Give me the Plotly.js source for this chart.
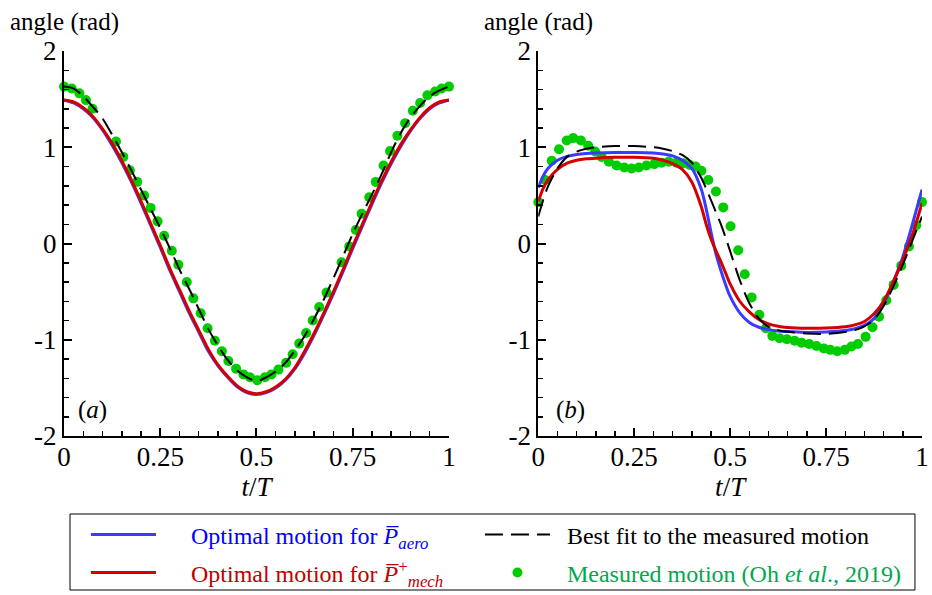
<!DOCTYPE html>
<html>
<head>
<meta charset="utf-8">
<script src="https://cdn.plot.ly/plotly-3.0.1.min.js"></script>
<style>
html,body{margin:0;padding:0;background:#fff;}
#chart{width:932px;height:595px;}
</style>
</head>
<body>
<div id="chart"></div>
<script>
// ---------- panel (a) ----------
const tA = [0,0.025,0.05,0.075,0.1,0.125,0.15,0.175,0.2,0.225,0.25,0.275,0.3,0.325,0.35,0.375,0.4,0.425,0.45,0.475,0.5,0.525,0.55,0.575,0.6,0.625,0.65,0.675,0.7,0.725,0.75,0.775,0.8,0.825,0.85,0.875,0.9,0.925,0.95,0.975,1];
const aeroA = [1.49,1.46,1.40,1.31,1.18,1.02,0.84,0.64,0.42,0.19,-0.04,-0.28,-0.50,-0.72,-0.92,-1.12,-1.27,-1.39,-1.49,-1.55,-1.57,-1.55,-1.50,-1.42,-1.30,-1.14,-0.95,-0.74,-0.52,-0.29,-0.05,0.18,0.41,0.63,0.83,1.01,1.17,1.30,1.40,1.46,1.49];
const mechA = [1.49,1.47,1.41,1.32,1.19,1.04,0.86,0.66,0.44,0.21,-0.02,-0.26,-0.48,-0.70,-0.90,-1.10,-1.26,-1.38,-1.48,-1.54,-1.56,-1.54,-1.49,-1.41,-1.29,-1.12,-0.93,-0.72,-0.50,-0.27,-0.03,0.20,0.43,0.65,0.85,1.03,1.18,1.31,1.41,1.47,1.49];
const fitA = [1.63,1.61,1.53,1.42,1.30,1.13,0.95,0.76,0.56,0.36,0.16,-0.05,-0.27,-0.47,-0.68,-0.89,-1.06,-1.21,-1.32,-1.39,-1.43,-1.39,-1.33,-1.24,-1.11,-0.96,-0.78,-0.58,-0.36,-0.13,0.10,0.31,0.51,0.72,0.95,1.15,1.31,1.43,1.53,1.59,1.63];
const measTA = [0,0.02,0.04,0.057,0.074,0.135,0.154,0.171,0.19,0.208,0.225,0.243,0.26,0.28,0.297,0.319,0.336,0.355,0.373,0.392,0.41,0.427,0.447,0.466,0.483,0.502,0.522,0.539,0.557,0.577,0.594,0.611,0.629,0.646,0.663,0.682,0.721,0.741,0.758,0.773,0.793,0.81,0.83,0.847,0.866,0.886,0.906,0.925,0.944,0.964,0.981,1.0];
const measA = [1.63,1.61,1.56,1.49,1.40,1.06,0.90,0.76,0.64,0.50,0.37,0.23,0.08,-0.075,-0.22,-0.40,-0.57,-0.725,-0.88,-1.01,-1.12,-1.22,-1.30,-1.36,-1.39,-1.42,-1.39,-1.36,-1.31,-1.24,-1.15,-1.04,-0.93,-0.80,-0.66,-0.51,-0.195,-0.03,0.14,0.31,0.48,0.64,0.81,0.96,1.12,1.25,1.38,1.46,1.54,1.58,1.61,1.63];

// ---------- panel (b) ----------
const tB = [0,0.0125,0.025,0.05,0.075,0.1,0.125,0.15,0.2,0.25,0.3,0.325,0.35,0.375,0.4,0.425,0.4375,0.45,0.4625,0.475,0.4875,0.5,0.525,0.55,0.575,0.6,0.625,0.65,0.7,0.75,0.8,0.825,0.85,0.875,0.9,0.925,0.95,0.975,1];
const aeroB = [0.58,0.70,0.78,0.865,0.905,0.925,0.935,0.94,0.945,0.945,0.94,0.93,0.91,0.865,0.78,0.56,0.36,0.12,-0.10,-0.27,-0.42,-0.55,-0.72,-0.82,-0.87,-0.895,-0.91,-0.915,-0.925,-0.92,-0.905,-0.885,-0.85,-0.78,-0.63,-0.40,-0.14,0.20,0.56];
const mechB = [0.44,0.57,0.66,0.77,0.835,0.865,0.88,0.887,0.895,0.895,0.885,0.865,0.83,0.77,0.64,0.38,0.20,0.05,-0.07,-0.18,-0.30,-0.42,-0.60,-0.71,-0.79,-0.835,-0.86,-0.872,-0.88,-0.878,-0.865,-0.845,-0.81,-0.73,-0.60,-0.40,-0.17,0.09,0.42];
const fitB = [0.28,0.45,0.59,0.78,0.90,0.955,0.985,1.0,1.012,1.012,1.0,0.985,0.96,0.92,0.84,0.68,0.57,0.45,0.33,0.21,0.07,-0.08,-0.38,-0.62,-0.78,-0.865,-0.90,-0.918,-0.935,-0.94,-0.92,-0.90,-0.86,-0.79,-0.65,-0.45,-0.22,0.03,0.28];
const measTB = [0,0.018,0.035,0.054,0.074,0.091,0.111,0.13,0.148,0.165,0.184,0.204,0.224,0.243,0.262,0.282,0.302,0.321,0.34,0.36,0.378,0.395,0.41,0.425,0.443,0.463,0.482,0.501,0.521,0.538,0.556,0.576,0.593,0.61,0.629,0.648,0.668,0.686,0.706,0.725,0.744,0.761,0.779,0.799,0.816,0.833,0.853,0.871,0.888,0.907,0.926,0.946,0.966,0.985,1.0];
const measB = [0.43,0.66,0.86,0.98,1.07,1.095,1.07,1.016,0.955,0.90,0.85,0.81,0.79,0.78,0.79,0.81,0.825,0.84,0.85,0.84,0.835,0.815,0.80,0.755,0.66,0.54,0.375,0.18,-0.07,-0.32,-0.56,-0.74,-0.88,-0.96,-0.985,-0.995,-1.01,-1.03,-1.045,-1.065,-1.09,-1.105,-1.12,-1.105,-1.07,-1.045,-0.97,-0.87,-0.76,-0.59,-0.43,-0.23,-0.03,0.19,0.43];

// ---------- labels ----------
const xTickVals = [0,0.25,0.5,0.75,1];
const xTickText = ['0','0.25','0.5','0.75','1'];
const yTickVals = [-2,-1,0,1,2];
const yTickText = ['-2','-1','0','1','2'];
const panelLabels = ['(<i>a</i>)','(<i>b</i>)'];
const yLabel = 'angle (rad)';
const xLabel = '<i>t</i>/<i>T</i>';
const PAD1 = '\u00a0\u00a0\u00a0\u00a0\u00a0';
const PAD2 = '\u00a0\u00a0';
const seriesNames = [
  PAD1 + '<span style="color:#0000ff">Optimal motion for <i>P\u0305</i><sub><i>aero</i></sub></span>',
  PAD2 + 'Best fit to the measured motion',
  PAD1 + '<span style="color:#c00000">Optimal motion for <i>P\u0305</i><sup>+</sup><sub><i>mech</i></sub></span>',
  PAD2 + '<span style="color:#00a84f">Measured motion (Oh <i>et al</i>., 2019)</span>'
];

const FONT = '"Liberation Serif", "Times New Roman", serif';
const BLUE = '#3b3bff', RED = '#d40000', GREEN = '#00cc00';

function panel(xa, ya, t, aero, mech, fit, mt, mv, show) {
  return [
    {x: mt, y: mv, xaxis: xa, yaxis: ya, type: 'scatter', mode: 'markers', name: seriesNames[3], legend: 'legend4', showlegend: show,
     marker: {color: GREEN, size: 10}, cliponaxis: false},
    {x: t, y: aero, xaxis: xa, yaxis: ya, type: 'scatter', mode: 'lines', name: seriesNames[0], legend: 'legend', showlegend: show,
     line: {color: BLUE, width: 3, shape: 'spline', smoothing: 0.8}},
    {x: t, y: mech, xaxis: xa, yaxis: ya, type: 'scatter', mode: 'lines', name: seriesNames[2], legend: 'legend3', showlegend: show,
     line: {color: RED, width: 3, shape: 'spline', smoothing: 0.8}},
    {x: t, y: fit, xaxis: xa, yaxis: ya, type: 'scatter', mode: 'lines', name: seriesNames[1], legend: 'legend2', showlegend: show,
     line: {color: '#000000', width: 2, dash: '18px,8px', shape: 'spline', smoothing: 0.8}}
  ];
}

const data = [].concat(
  panel('x', 'y', tA, aeroA, mechA, fitA, measTA, measA, true),
  panel('x2', 'y2', tB, aeroB, mechB, fitB, measTB, measB, false)
);

function xAxis(domain, anchor) {
  return {
    domain: domain, anchor: anchor, range: [0, 1], showgrid: false, zeroline: false,
    showline: true, linecolor: '#000', linewidth: 2, automargin: false,
    tickmode: 'array', tickvals: xTickVals, ticktext: xTickText,
    ticks: 'inside', ticklen: 8, tickwidth: 2, tickcolor: '#000', ticklabelstandoff: -4,
    minor: {tickmode: 'linear', tick0: 0, dtick: 0.05, ticks: 'inside', ticklen: 5, tickwidth: 1.5, tickcolor: '#000', showgrid: false},
    tickfont: {family: FONT, size: 27, color: '#000'},
    title: {text: xLabel, font: {family: FONT, size: 27, color: '#000'}, standoff: 0}
  };
}
function yAxis(anchor) {
  return {
    domain: [0, 1], anchor: anchor, range: [-2, 2], showgrid: false, zeroline: false,
    showline: true, linecolor: '#000', linewidth: 2, automargin: false,
    tickmode: 'array', tickvals: yTickVals, ticktext: yTickText,
    ticks: 'inside', ticklen: 8, tickwidth: 2, tickcolor: '#000',
    minor: {tickmode: 'linear', tick0: 0, dtick: 0.2, ticks: 'inside', ticklen: 5, tickwidth: 1.5, tickcolor: '#000', showgrid: false},
    tickfont: {family: FONT, size: 27, color: '#000'}
  };
}

function legendAt(x, y) {
  return {
    orientation: 'v', x: x, xanchor: 'left', y: y, yanchor: 'middle',
    borderwidth: 0, bgcolor: 'rgba(0,0,0,0)',
    font: {family: FONT, size: 24, color: '#000'},
    itemwidth: 65
  };
}

const layout = {
  width: 932, height: 595,
  margin: {l: 64, r: 10, t: 51, b: 159, pad: 0, autoexpand: false},
  paper_bgcolor: '#fff', plot_bgcolor: '#fff',
  font: {family: FONT, color: '#000'},
  showlegend: true,
  hovermode: false,
  xaxis: xAxis([0, 0.4487], 'y'),
  yaxis: yAxis('x'),
  xaxis2: xAxis([0.5528, 1], 'y2'),
  yaxis2: yAxis('x2'),
  legend: legendAt(0.0256, -0.2571),
  legend3: legendAt(0.0256, -0.3558),
  legend2: legendAt(0.4848, -0.2571),
  legend4: legendAt(0.4848, -0.3558),
  shapes: [
    {type: 'rect', xref: 'paper', yref: 'paper', x0: 0.007, x1: 0.9918, y0: -0.2026, y1: -0.4, line: {color: '#000', width: 1}, fillcolor: 'rgba(0,0,0,0)', layer: 'below'}
  ],
  annotations: [
    {xref: 'x', yref: 'paper', x: 0, y: 1.075, text: yLabel, showarrow: false, xanchor: 'center', yanchor: 'middle', font: {family: FONT, size: 25, color: '#000'}},
    {xref: 'x2', yref: 'paper', x: 0, y: 1.075, text: yLabel, showarrow: false, xanchor: 'center', yanchor: 'middle', font: {family: FONT, size: 25, color: '#000'}},
    {xref: 'x', yref: 'y', x: 0.075, y: -1.73, text: panelLabels[0], showarrow: false, xanchor: 'center', yanchor: 'middle', font: {family: FONT, size: 25, color: '#000'}},
    {xref: 'x2', yref: 'y2', x: 0.085, y: -1.73, text: panelLabels[1], showarrow: false, xanchor: 'center', yanchor: 'middle', font: {family: FONT, size: 25, color: '#000'}}
  ]
};

Plotly.newPlot('chart', data, layout, {staticPlot: true, displayModeBar: false});
</script>
</body>
</html>
